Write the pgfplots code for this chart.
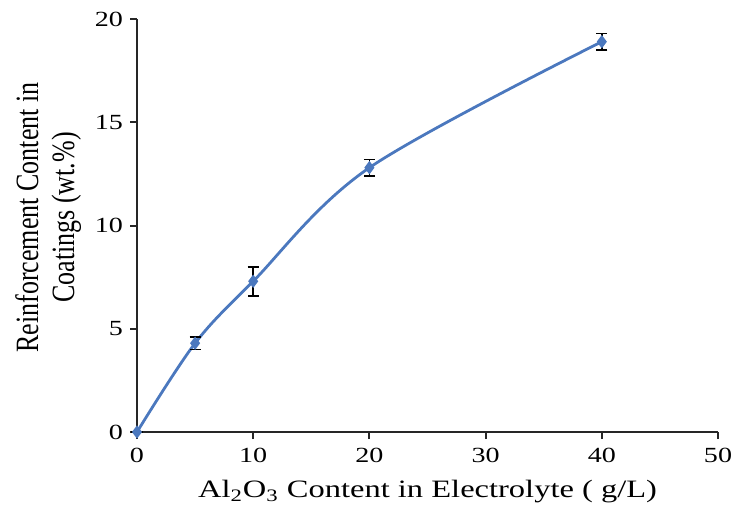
\documentclass[border=0pt]{standalone}
\usepackage{pgfplots}
\pgfplotsset{compat=1.18}
\usepackage{fontspec}
\setmainfont{Liberation Serif}[FakeStretch=1.3]
\newfontfamily\plainserif{Liberation Serif}
\definecolor{lineblue}{RGB}{75,120,190}
\begin{document}
\begin{tikzpicture}
\path[use as bounding box] (-68.5pt,-46pt) rectangle (300pt,216pt);
\begin{axis}[
  at={(0pt,0pt)}, anchor=south west,
  scale only axis,
  width=290.5pt, height=206.5pt,
  xmin=0, xmax=50, ymin=0, ymax=20,
  axis lines=left,
  axis line style={-, line width=1pt, black!85},
  xtick={0,10,...,50}, ytick={0,5,...,20},
  tick align=outside,
  major tick length=3.5pt,
  tick style={line width=1pt, black!85},
  clip=false,
  ticklabel style={font=\fontsize{10.8}{12}\selectfont},
  xticklabel style={yshift=-1pt},
  /pgf/number format/assume math mode=true,
  xlabel={Al\textsubscript{2}O\textsubscript{3} Content in Electrolyte ( g/L)},
  xlabel style={font=\fontsize{12.5}{14}\selectfont, yshift=-2pt},
  ylabel={\scalebox{1}[1.25]{Reinforcement Content in}\\[3pt]\scalebox{1}[1.25]{Coatings (wt.\%)}},
  ylabel style={font=\plainserif\fontsize{13}{15}\selectfont, align=center, xshift=4pt},
]
\addplot[color=lineblue, line width=1.4pt, smooth, tension=0.55,
  mark=diamond*, mark size=2.2pt, mark options={fill=lineblue},
  error bars/.cd, y dir=both, y explicit,
  error bar style={black, line width=0.8pt},
  error mark options={rotate=90, mark size=2.8pt, black, line width=0.8pt}]
coordinates {
  (0,0) +- (0,0)
  (5,4.3) +- (0,0.3)
  (10,7.3) +- (0,0.7)
  (20,12.8) +- (0,0.4)
  (40,18.9) +- (0,0.4)
};
\end{axis}
\end{tikzpicture}
\end{document}
